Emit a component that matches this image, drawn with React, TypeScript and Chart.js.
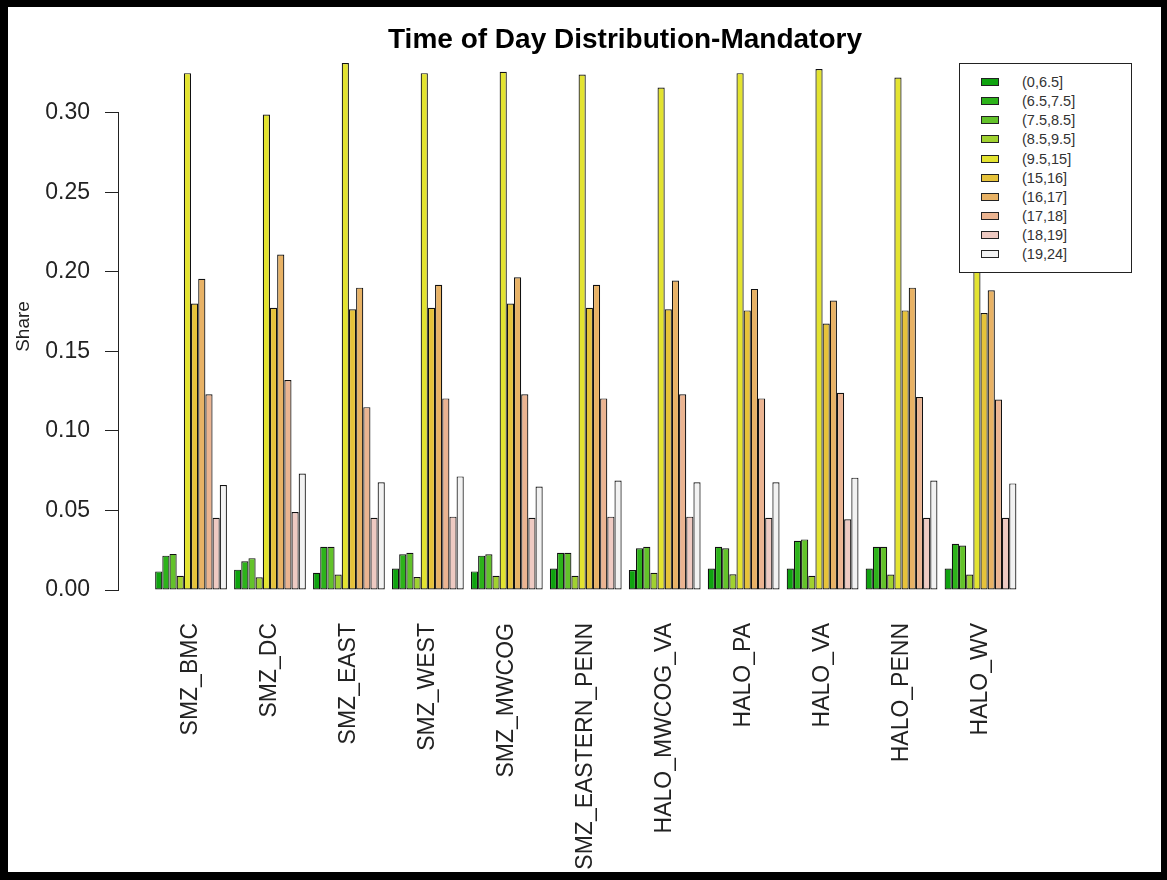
import React, { useEffect, useRef } from 'react';
import { Chart, registerables } from 'chart.js';

Chart.register(...registerables);

const TITLE = 'Time of Day Distribution-Mandatory';
const Y_LABEL = 'Share';

const CATEGORIES = [
  'SMZ_BMC', 'SMZ_DC', 'SMZ_EAST', 'SMZ_WEST', 'SMZ_MWCOG', 'SMZ_EASTERN_PENN',
  'HALO_MWCOG_VA', 'HALO_PA', 'HALO_VA', 'HALO_PENN', 'HALO_WV',
];

const SERIES_LABELS = [
  '(0,6.5]', '(6.5,7.5]', '(7.5,8.5]', '(8.5,9.5]', '(9.5,15]',
  '(15,16]', '(16,17]', '(17,18]', '(18,19]', '(19,24]',
];

const SERIES_COLORS = [
  '#0FA30F', '#2DB31A', '#63C22A', '#A0D130', '#E3E330',
  '#E6C23A', '#E8B265', '#EBB491', '#EECAC2', '#F2F2F2',
];

const H_0_65 = [0.0117, 0.0128, 0.0108, 0.0135, 0.0117, 0.0135, 0.0126, 0.0135, 0.0135, 0.0135, 0.0135];
const H_65_75 = [0.0216, 0.018, 0.0271, 0.0225, 0.0216, 0.0234, 0.0262, 0.0271, 0.0309, 0.0271, 0.0291];
const H_75_85 = [0.0227, 0.020, 0.0271, 0.0234, 0.0225, 0.0234, 0.0271, 0.0262, 0.0318, 0.0271, 0.028];
const H_85_95 = [0.009, 0.008, 0.0097, 0.0082, 0.009, 0.009, 0.0108, 0.0099, 0.009, 0.0097, 0.0097];
const H_95_15 = [0.3248, 0.2988, 0.3312, 0.3248, 0.3257, 0.3239, 0.3158, 0.3248, 0.3274, 0.322, 0.326];
const H_15_16 = [0.180, 0.1773, 0.1764, 0.1773, 0.180, 0.1773, 0.1764, 0.1757, 0.1674, 0.1757, 0.174];
const H_16_17 = [0.1956, 0.2108, 0.190, 0.1918, 0.1965, 0.1918, 0.1945, 0.1892, 0.1819, 0.190, 0.1883];
const H_17_18 = [0.123, 0.132, 0.1149, 0.1204, 0.123, 0.1204, 0.123, 0.1204, 0.1239, 0.1213, 0.1197];
const H_18_19 = [0.0454, 0.049, 0.0454, 0.0461, 0.0454, 0.0461, 0.0461, 0.0454, 0.0445, 0.0454, 0.0454];
const H_19_24 = [0.066, 0.0732, 0.0677, 0.0714, 0.065, 0.0688, 0.0677, 0.0677, 0.0706, 0.0688, 0.067];

const SERIES_VALUES = [H_0_65, H_65_75, H_75_85, H_85_95, H_95_15, H_15_16, H_16_17, H_17_18, H_18_19, H_19_24];

const Y_MIN = 0;
const Y_MAX = 0.3;
const Y_STEP = 0.05;

const FONT = '"Liberation Sans", Arial, Helvetica, sans-serif';

export default function App() {
  const ref = useRef<HTMLCanvasElement>(null);

  useEffect(() => {
    if (!ref.current) return;
    const datasets = SERIES_LABELS.map((label, k) => ({
      label,
      data: CATEGORIES.map((_, i) => ({ x: i, y: SERIES_VALUES[k][i] })),
      backgroundColor: SERIES_COLORS[k],
      borderColor: '#111',
      borderWidth: 1.2,
      borderSkipped: false as const,
      clip: false as const,
      barPercentage: 1,
      categoryPercentage: 10 / 11,
    }));
    const dataMax = Math.max(...SERIES_VALUES.flat());

    const shareLabel = {
      id: 'shareLabel',
      afterDraw(chart: any) {
        const y = chart.scales.y;
        const ctx = chart.ctx;
        ctx.save();
        ctx.translate(y.left + 16, y.getPixelForValue(dataMax / 2));
        ctx.rotate(-Math.PI / 2);
        ctx.font = `19px ${FONT}`;
        ctx.fillStyle = '#222';
        ctx.textAlign = 'center';
        ctx.textBaseline = 'middle';
        ctx.fillText(Y_LABEL, 0, 0);
        ctx.restore();
      },
    };

    const chart = new Chart(ref.current, {
      type: 'bar',
      data: { datasets } as any,
      options: {
        animation: false,
        responsive: false,
        maintainAspectRatio: false,
        layout: { padding: { left: 0, right: 29, top: 0, bottom: 0 } },
        plugins: {
          legend: { display: false },
          tooltip: { enabled: false },
          title: {
            display: true,
            text: TITLE,
            fullSize: false,
            color: '#000',
            font: { family: FONT, size: 28, weight: 'bold' },
            padding: { top: 16, bottom: 56 },
          },
        },
        scales: {
          x: {
            type: 'linear',
            offset: false,
            bounds: 'data',
            min: -0.925,
            max: 11.919,
            grid: { display: false, drawTicks: false },
            border: { display: false },
            afterBuildTicks: (s: any) => {
              s.ticks = CATEGORIES.map((_, i) => ({ value: i }));
            },
            afterFit: (s: any) => {
              s.height = 282;
            },
            ticks: {
              autoSkip: false,
              minRotation: 90,
              maxRotation: 90,
              padding: 33,
              color: '#222',
              font: { family: FONT, size: 23 },
              callback: (v: any) => CATEGORIES[v as number] ?? '',
            },
          },
          y: {
            min: Y_MIN,
            max: Y_MAX,
            afterFit: (s: any) => {
              s.width = 110;
            },
            ticks: {
              stepSize: Y_STEP,
              padding: 15,
              color: '#222',
              font: { family: FONT, size: 23 },
              callback: (v: any) => Number(v).toFixed(2),
            },
            grid: { drawOnChartArea: false, tickLength: 13, color: '#222', lineWidth: 1 },
            border: { display: true, color: '#222', width: 1 },
          },
        },
      } as any,
      plugins: [shareLabel],
    });
    return () => chart.destroy();
  }, []);

  return (
    <div
      style={{
        position: 'absolute',
        left: 0,
        top: 0,
        width: 1167,
        height: 880,
        boxSizing: 'border-box',
        borderStyle: 'solid',
        borderColor: '#000',
        borderWidth: '7px 6px 8px 8px',
        background: '#fff',
        overflow: 'hidden',
      }}
    >
      <canvas ref={ref} width={1153} height={865} style={{ display: 'block', width: 1153, height: 865 }} />
      <div
        style={{
          position: 'absolute',
          left: 951,
          top: 55.5,
          width: 173,
          height: 210,
          boxSizing: 'border-box',
          border: '1px solid #222',
          background: '#fff',
        }}
      >
        {SERIES_LABELS.map((label, k) => (
          <div
            key={label}
            style={{
              position: 'absolute',
              left: 0,
              top: 18.5 + 19.15 * k - 10,
              height: 20,
              width: '100%',
            }}
          >
            <div
              style={{
                position: 'absolute',
                left: 21,
                top: 6,
                width: 18,
                height: 8,
                boxSizing: 'border-box',
                border: '1px solid #222',
                background: SERIES_COLORS[k],
              }}
            />
            <span
              style={{
                position: 'absolute',
                left: 62,
                top: 0,
                lineHeight: '20px',
                fontFamily: FONT,
                fontSize: 14.5,
                color: '#333',
              }}
            >
              {label}
            </span>
          </div>
        ))}
      </div>
    </div>
  );
}
